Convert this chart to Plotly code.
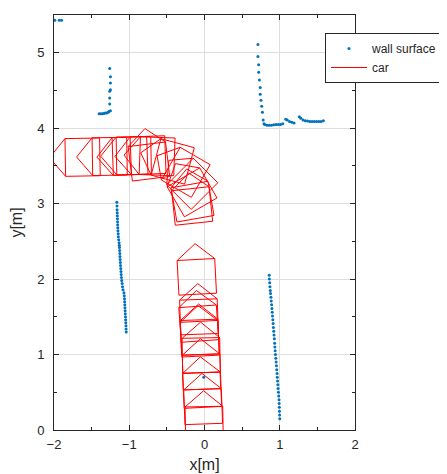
import numpy as np
import plotly.graph_objects as go

# ---------------- data ----------------
# wall surface points (x [m], y [m])
wall_x = [-1.99, -1.93, -1.90,
          -1.26, -1.25, -1.25, -1.25, -1.26, -1.26, -1.26, -1.25,
          -1.40, -1.38, -1.36, -1.34, -1.32, -1.30, -1.28, -1.27,
          0.71, 0.71, 0.72, 0.72, 0.73, 0.74, 0.74, 0.75, 0.76, 0.77, 0.78, 0.79,
          0.80, 0.83, 0.86, 0.89, 0.92, 0.95, 0.98, 1.01, 1.04,
          1.08, 1.10, 1.13, 1.16, 1.19,
          1.26, 1.28, 1.31, 1.34, 1.37, 1.40, 1.43, 1.46, 1.49, 1.52, 1.55, 1.58,
          -1.165, -1.163, -1.162, -1.160, -1.158, -1.157, -1.155, -1.154, -1.152, -1.150,
          -1.147, -1.145, -1.140, -1.135, -1.132, -1.130, -1.128, -1.125, -1.123, -1.121,
          -1.118, -1.116, -1.113, -1.110, -1.107, -1.104, -1.100, -1.095, -1.090, -1.083,
          -1.070, -1.066, -1.063, -1.061, -1.059, -1.057, -1.055, -1.053, -1.050, -1.048,
          -1.046, -1.044, -1.042, -1.040,
          0.860, 0.862, 0.866, 0.870, 0.874, 0.878, 0.883, 0.887, 0.892, 0.896,
          0.900, 0.904, 0.908, 0.912, 0.916, 0.920, 0.924, 0.928, 0.932, 0.935,
          0.939, 0.943, 0.948, 0.952, 0.956, 0.960, 0.964, 0.967, 0.971, 0.975,
          0.978, 0.982, 0.986, 0.990, 0.992, 0.994, 0.996, 0.998, 1.000,
          -0.01]
wall_y = [5.43, 5.43, 5.43,
          4.79, 4.68, 4.60, 4.51, 4.49, 4.40, 4.32, 4.23,
          4.19, 4.19, 4.19, 4.195, 4.20, 4.20, 4.21, 4.22,
          5.11, 4.95, 4.84, 4.74, 4.64, 4.54, 4.45, 4.37, 4.29, 4.21, 4.11, 4.06,
          4.05, 4.04, 4.04, 4.04, 4.045, 4.05, 4.05, 4.05, 4.06,
          4.12, 4.11, 4.09, 4.08, 4.07,
          4.15, 4.13, 4.11, 4.10, 4.095, 4.09, 4.09, 4.09, 4.09, 4.09, 4.09, 4.10,
          3.02, 2.97, 2.92, 2.88, 2.84, 2.80, 2.76, 2.72, 2.68, 2.64,
          2.60, 2.56, 2.52, 2.48, 2.45, 2.42, 2.38, 2.34, 2.30, 2.26,
          2.22, 2.18, 2.14, 2.10, 2.06, 2.02, 1.98, 1.94, 1.90, 1.86,
          1.82, 1.78, 1.74, 1.70, 1.66, 1.62, 1.58, 1.54, 1.50, 1.46,
          1.42, 1.38, 1.34, 1.30,
          2.05, 2.00, 1.95, 1.90, 1.85, 1.81, 1.76, 1.71, 1.66, 1.61,
          1.56, 1.51, 1.46, 1.41, 1.36, 1.31, 1.26, 1.21, 1.15, 1.10,
          1.05, 1.00, 0.95, 0.90, 0.85, 0.80, 0.75, 0.70, 0.65, 0.60,
          0.55, 0.50, 0.45, 0.40, 0.35, 0.30, 0.25, 0.20, 0.15,
          0.70]

# car poses: rear-centre x, y [m] and heading [deg]
car_x = [0.00, -0.01, -0.02, -0.03, -0.04, -0.05, -0.055, -0.06, -0.065, -0.09,
         -0.14, -0.12, -0.05, 0.00, -0.05, -0.20, -0.40,
         -0.52, -0.71, -0.76, -1.03, -1.39, -0.71]
car_y = [-0.15, 0.08, 0.30, 0.54, 0.76, 0.98, 1.00, 1.18, 1.27, 1.80,
         2.74, 2.80, 2.95, 3.10, 3.30, 3.50, 3.62,
         3.65, 3.64, 3.64, 3.63, 3.62, 3.33]
car_heading = [91, 92, 93, 92, 91, 93, 92, 94, 92, 93,
               96, 100, 120, 135, 150, 165, 178,
               182, 181, 182, 181, 181, 97]

# car outline dimensions [m]
car_width = 0.5
car_body = 0.46
car_nose = 0.21

# ---------------- build car outlines ----------------
w2 = car_width / 2
local_u = [car_body, car_body + car_nose, car_body, car_body, 0.0, 0.0, car_body]
local_v = [w2, 0.0, -w2, w2, w2, -w2, -w2]
cx, cy = [], []
for x0, y0, h in zip(car_x, car_y, car_heading):
    t = np.deg2rad(h)
    c, s = np.cos(t), np.sin(t)
    for u, v in zip(local_u, local_v):
        cx.append(x0 + u * c - v * s)
        cy.append(y0 + u * s + v * c)
    cx.append(None)
    cy.append(None)

fig = go.Figure()
fig.add_trace(go.Scatter(x=wall_x, y=wall_y, mode="markers", name="wall surface",
                         marker=dict(color="#0072BD", size=3)))
fig.add_trace(go.Scatter(x=cx, y=cy, mode="lines", name="car",
                         line=dict(color="#ff0000", width=1)))

FONT = "Liberation Sans, Arial, sans-serif"
axis_common = dict(
    showline=True, linecolor="#262626", linewidth=1, mirror="ticks",
    ticks="inside", ticklen=5, tickcolor="#262626",
    showgrid=True, gridcolor="#dedede", gridwidth=1, zeroline=False,
    tickfont=dict(size=13, color="#262626", family=FONT),
    minor=dict(dtick=0.5, ticks="inside", ticklen=3, tickcolor="#262626", showgrid=False),
)
fig.update_layout(
    width=447, height=474,
    margin=dict(l=46, r=100, t=7, b=52, autoexpand=False),
    plot_bgcolor="white", paper_bgcolor="white",
    font=dict(family=FONT, size=13, color="#262626"),
    xaxis=dict(range=[-2, 2], dtick=1, tick0=0, ticklabelstandoff=2,
               title=dict(text="x[m]", standoff=8), **axis_common),
    yaxis=dict(range=[0, 5.5], dtick=1, tick0=0, ticklabelstandoff=6,
               title=dict(text="y[m]", standoff=14), **axis_common),
    legend=dict(x=0.9003, y=0.9566, xanchor="left", yanchor="top",
                bgcolor="white", bordercolor="#262626", borderwidth=1,
                itemwidth=36,
                font=dict(size=12, color="#262626"), tracegroupgap=0),
    showlegend=True,
)
fig.write_html("out.html")
